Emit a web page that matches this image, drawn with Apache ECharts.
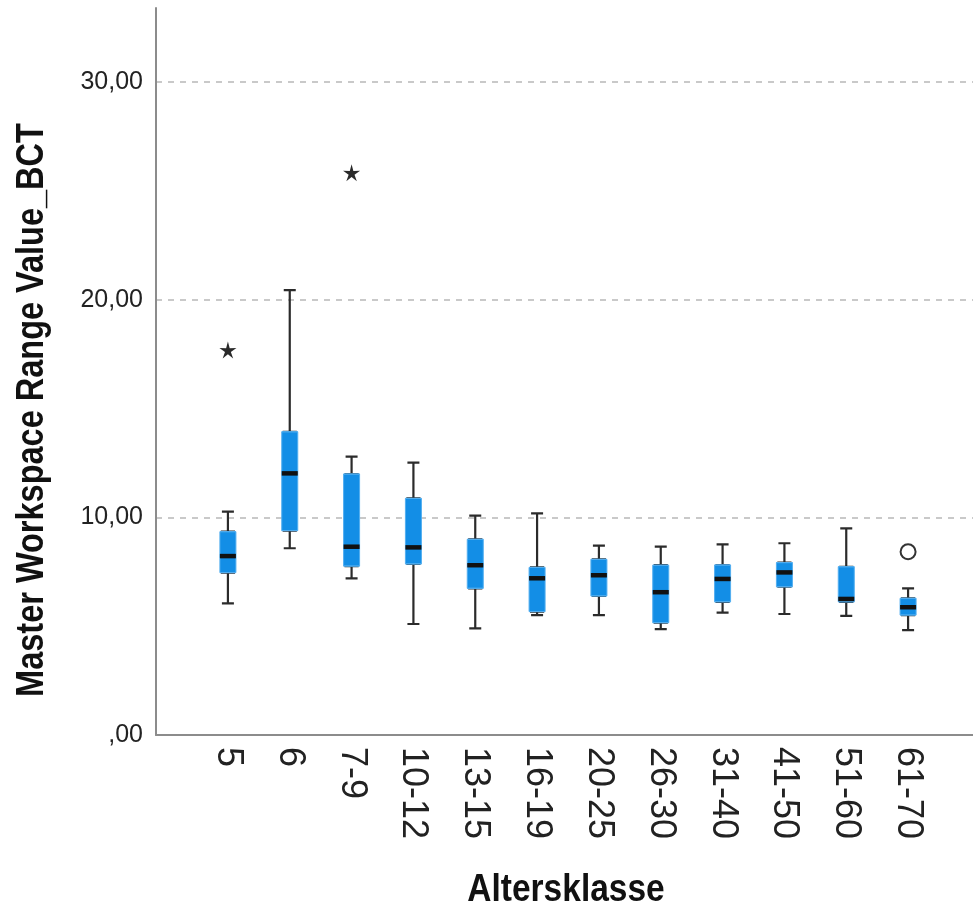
<!DOCTYPE html>
<html>
<head>
<meta charset="utf-8">
<script src="https://cdn.jsdelivr.net/npm/echarts@6/dist/echarts.min.js"></script>
<style>
html,body{margin:0;padding:0;background:#fff;}
#chart{width:973px;height:911px;}
</style>
</head>
<body>
<div id="chart"></div>
<script>
// ---- data ----
const categories = ['5','6','7-9','10-12','13-15','16-19','20-25','26-30','31-40','41-50','51-60','61-70'];
const whiskerLow  = [6.05, 8.58, 7.20, 5.10, 4.90, 5.51, 5.51, 4.86, 5.62, 5.56, 5.47, 4.82];
const q1          = [7.46, 9.39, 7.76, 7.86, 6.74, 5.67, 6.39, 5.16, 6.12, 6.81, 6.12, 5.51];
const median      = [8.22, 12.02, 8.65, 8.62, 7.80, 7.20, 7.34, 6.56, 7.17, 7.47, 6.25, 5.87];
const q3          = [9.34, 13.93, 11.99, 10.87, 8.99, 7.70, 8.07, 7.80, 7.81, 7.92, 7.73, 6.28];
const whiskerHigh = [10.26, 20.44, 12.79, 12.51, 10.08, 10.18, 8.70, 8.65, 8.76, 8.81, 9.49, 6.74];
const extremeOutliers = [['5', 17.69], ['7-9', 25.83]];   // stars
const outliers = [['61-70', 8.42]];                        // circles
const yTickValues = [0, 10, 20, 30];
const yTickLabels = [',00', '10,00', '20,00', '30,00'];
const yMax = 33.4;

const SANS = "'Liberation Sans', Arial, sans-serif";

const whiskerData = categories.map((c, i) => [whiskerLow[i], q1[i], median[i], q3[i], whiskerHigh[i]]);
const boxData = categories.map((c, i) => [q1[i], q1[i], median[i], q3[i], q3[i]]);
const medianData = categories.map((c, i) => [c, median[i]]);

const starPath = 'path://M0,-10 L2.0,-2.8 L9.51,-3.09 L3.3,1.1 L5.88,8.09 L0,3.5 L-5.88,8.09 L-3.3,1.1 L-9.51,-3.09 L-2.0,-2.8 Z';

const chart = echarts.init(document.getElementById('chart'), null, {renderer: 'canvas'});
const option = {
  animation: false,
  backgroundColor: '#fff',
  grid: [
    {left: 197, right: 34, top: 8, bottom: 176},
    {left: 156, right: 0, top: 8, bottom: 176}
  ],
  xAxis: [
    {
      type: 'category', gridIndex: 0, data: categories,
      axisLine: {show: false}, axisTick: {show: false},
      axisLabel: {rotate: -90, margin: 12, fontSize: 36, color: '#222', fontFamily: SANS, interval: 0}
    },
    {type: 'category', gridIndex: 0, data: categories, show: false},
    {
      type: 'value', gridIndex: 1, min: 0, max: 1,
      axisLine: {show: true, lineStyle: {color: '#8c8c8c', width: 2}},
      axisTick: {show: false}, axisLabel: {show: false}, splitLine: {show: false}
    }
  ],
  yAxis: [
    {type: 'value', gridIndex: 0, min: 0, max: yMax, interval: 10, show: false},
    {
      type: 'value', gridIndex: 1, min: 0, max: yMax, interval: 10,
      axisLine: {show: true, lineStyle: {color: '#8c8c8c', width: 2}},
      axisTick: {show: false},
      axisLabel: {
        showMaxLabel: false, margin: 13, fontSize: 25, color: '#222', fontFamily: SANS,
        formatter: v => { const k = yTickValues.indexOf(v); return k >= 0 ? yTickLabels[k] : ''; }
      },
      splitLine: {show: true, showMinLine: false, showMaxLine: false,
        lineStyle: {color: '#b8b8b8', width: 1.5, type: [6, 6]}}
    }
  ],
  series: [
    {
      type: 'boxplot', xAxisIndex: 0, yAxisIndex: 0, data: whiskerData,
      boxWidth: [12, 12],
      itemStyle: {color: '#1a8fe6', borderColor: '#2b2b2b', borderWidth: 2.2},
      z: 2
    },
    {
      type: 'boxplot', xAxisIndex: 1, yAxisIndex: 0, data: boxData,
      boxWidth: [16, 16],
      itemStyle: {color: '#138ee6', borderColor: '#52aef0', borderWidth: 1},
      z: 3
    },
    {
      type: 'scatter', xAxisIndex: 0, yAxisIndex: 0, data: medianData,
      symbol: 'rect', symbolSize: [16, 4.5],
      itemStyle: {color: '#111', opacity: 1}, z: 4
    },
    {
      type: 'scatter', xAxisIndex: 0, yAxisIndex: 0, data: extremeOutliers,
      symbol: starPath, symbolSize: 17,
      itemStyle: {color: '#2a2a2a', opacity: 1}, z: 4
    },
    {
      type: 'scatter', xAxisIndex: 0, yAxisIndex: 0, data: outliers,
      symbol: 'emptyCircle', symbolSize: 15,
      itemStyle: {color: '#333', borderWidth: 2.5, opacity: 1}, z: 4
    }
  ],
  graphic: [
    {
      type: 'text', x: 32, y: 410, rotation: Math.PI / 2, scaleY: 1.2,
      style: {text: 'Master Workspace Range Value_BCT', font: "bold 32.5px " + SANS,
        fill: '#111', textAlign: 'center', textVerticalAlign: 'middle'}
    },
    {
      type: 'text', x: 566, y: 890, scaleY: 1.17,
      style: {text: 'Altersklasse', font: "bold 33.5px " + SANS,
        fill: '#111', textAlign: 'center', textVerticalAlign: 'middle'}
    }
  ]
};
chart.setOption(option);
</script>
</body>
</html>
